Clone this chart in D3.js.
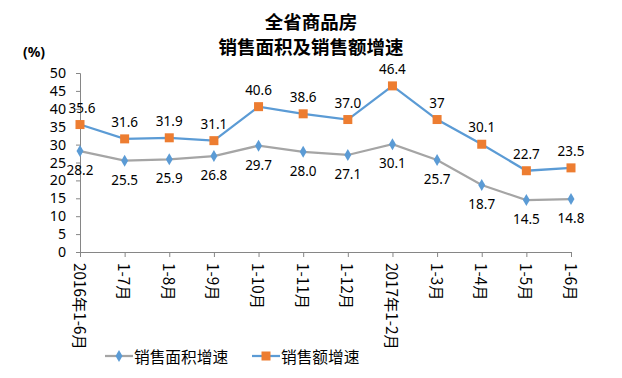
<!DOCTYPE html>
<html><head><meta charset="utf-8">
<script src="https://cdn.jsdelivr.net/npm/d3@7"></script>
<style>body{margin:0;background:#fff}svg{display:block}</style>
</head><body>
<script>
const categories = ["2016年1-6月","1-7月","1-8月","1-9月","1-10月","1-11月","1-12月","2017年1-2月","1-3月","1-4月","1-5月","1-6月"];
const areaGrowth = [28.2,25.5,25.9,26.8,29.7,28.0,27.1,30.1,25.7,18.7,14.5,14.8];
const areaLabels = ["28.2","25.5","25.9","26.8","29.7","28.0","27.1","30.1","25.7","18.7","14.5","14.8"];
const amountGrowth = [35.6,31.6,31.9,31.1,40.6,38.6,37.0,46.4,37,30.1,22.7,23.5];
const amountLabels = ["35.6","31.6","31.9","31.1","40.6","38.6","37.0","46.4","37","30.1","22.7","23.5"];
const yTicks = [0,5,10,15,20,25,30,35,40,45,50];
const seriesNames = ["销售面积增速","销售额增速"];

const W=622,H=378;
const svg=d3.select("body").append("svg").attr("width",W).attr("height",H);
const numFont="'Noto Sans','Open Sans',sans-serif";
const cjk="'Noto Sans CJK SC',sans-serif";

const x=d3.scalePoint().domain(categories).range([80,571]);
const y=d3.scaleLinear().domain([0,50]).range([252,73]);

// title
svg.append("text").attr("x",311).attr("y",29).attr("text-anchor","middle")
  .attr("font-family",cjk).attr("font-weight","bold").attr("font-size",18.5).text("全省商品房");
svg.append("text").attr("x",311).attr("y",54).attr("text-anchor","middle")
  .attr("font-family",cjk).attr("font-weight","bold").attr("font-size",18.5).text("销售面积及销售额增速");
svg.append("text").attr("x",23).attr("y",57).attr("font-family",numFont).attr("font-weight","bold")
  .attr("font-size",14).text("(%)");

// y axis
const yAxis=svg.append("g").attr("transform","translate(80,0)")
  .call(d3.axisLeft(y).tickValues(yTicks).tickSize(4).tickPadding(10));
yAxis.select(".domain").attr("stroke","#868686");
yAxis.selectAll(".tick line").attr("stroke","#868686");
yAxis.selectAll("text").attr("font-family",numFont).attr("font-size",14.2).attr("fill","#000");

// x axis
const xAxis=svg.append("g").attr("transform","translate(0,252)")
  .call(d3.axisBottom(x).tickSize(5).tickSizeOuter(0));
xAxis.select(".domain").attr("stroke","#868686");
xAxis.selectAll(".tick line").attr("stroke","#868686");
xAxis.selectAll("text")
  .attr("font-family",cjk).attr("font-size",15.3).attr("fill","#000")
  .attr("text-anchor","start").attr("dy",null).attr("y",null)
  .attr("transform","translate(0,11) rotate(90)")
  .attr("dominant-baseline","central");

// lines
const line=d3.line().x((d,i)=>x(categories[i])).y(d=>y(d));
svg.append("path").datum(areaGrowth).attr("d",line).attr("fill","none")
  .attr("stroke","#A5A5A5").attr("stroke-width",2.25);
svg.append("path").datum(amountGrowth).attr("d",line).attr("fill","none")
  .attr("stroke","#5B9BD5").attr("stroke-width",2.25);

// markers
const diamond=d3.symbol().type(d3.symbolDiamond).size(42);
svg.selectAll(".dm").data(areaGrowth).enter().append("path")
  .attr("d",diamond).attr("fill","#5B9BD5")
  .attr("transform",(d,i)=>`translate(${x(categories[i])},${y(d)})`);
svg.selectAll(".sq").data(amountGrowth).enter().append("rect")
  .attr("x",(d,i)=>x(categories[i])-4.5).attr("y",d=>y(d)-4.5)
  .attr("width",9).attr("height",9).attr("fill","#ED7D31");

// labels
svg.selectAll(".la").data(areaGrowth).enter().append("text")
  .attr("x",(d,i)=>x(categories[i])).attr("y",d=>y(d)+24)
  .attr("text-anchor","middle").attr("font-family",numFont).attr("font-size",13.5)
  .text((d,i)=>areaLabels[i]);
svg.selectAll(".lb").data(amountGrowth).enter().append("text")
  .attr("x",(d,i)=>x(categories[i])+(i===0?2:0)).attr("y",d=>y(d)-12)
  .attr("text-anchor","middle").attr("font-family",numFont).attr("font-size",13.5)
  .text((d,i)=>amountLabels[i]);

// legend
const lg=svg.append("g");
lg.append("line").attr("x1",105).attr("x2",133).attr("y1",356).attr("y2",356)
  .attr("stroke","#A5A5A5").attr("stroke-width",2.25);
lg.append("path").attr("d",diamond).attr("fill","#5B9BD5").attr("transform","translate(119,356)");
lg.append("text").attr("x",134).attr("y",356).attr("dominant-baseline","central")
  .attr("font-family",cjk).attr("font-size",15.7).text(seriesNames[0]);
lg.append("line").attr("x1",252).attr("x2",280).attr("y1",356).attr("y2",356)
  .attr("stroke","#5B9BD5").attr("stroke-width",2.25);
lg.append("rect").attr("x",261.5).attr("y",351.5).attr("width",9).attr("height",9).attr("fill","#ED7D31");
lg.append("text").attr("x",281).attr("y",356).attr("dominant-baseline","central")
  .attr("font-family",cjk).attr("font-size",15.7).text(seriesNames[1]);
</script>
</body></html>
